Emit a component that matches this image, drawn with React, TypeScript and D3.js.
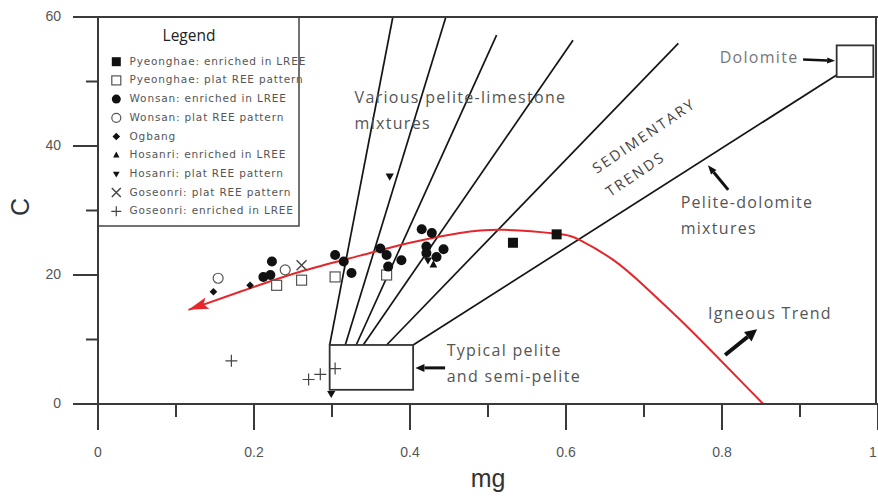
import React from "react";
import * as d3 from "d3";

// ---------- data ----------
const xTicksMajor = [0, 0.2, 0.4, 0.6, 0.8, 1];
const xTicksMinor = [0.1, 0.3, 0.5, 0.7, 0.9];
const yTicksMajor = [0, 20, 40, 60];
const yTicksMinor = [10, 30, 50];
const xTickLabels = ["0", "0.2", "0.4", "0.6", "0.8", "1"];
const yTickLabels = ["0", "20", "40", "60"];

const pyeonghaeEnriched: [number, number][] = [[0.532, 25.0], [0.588, 26.3]];
const pyeonghaePlat: [number, number][] = [[0.229, 18.4], [0.261, 19.2], [0.304, 19.7], [0.37, 20.0]];
const wonsanEnriched: [number, number][] = [
  [0.223, 22.1], [0.212, 19.7], [0.221, 20.0], [0.304, 23.1], [0.315, 22.1], [0.325, 20.3],
  [0.362, 24.1], [0.37, 23.1], [0.372, 21.3], [0.389, 22.3], [0.415, 27.1], [0.428, 26.5],
  [0.421, 24.4], [0.421, 23.4], [0.434, 22.8], [0.443, 24.0],
];
const wonsanPlat: [number, number][] = [[0.154, 19.5], [0.24, 20.8]];
const ogbang: [number, number][] = [[0.148, 17.4], [0.195, 18.4]];
const hosanriEnriched: [number, number][] = [[0.43, 21.6]];
const hosanriPlat: [number, number][] = [[0.374, 35.3], [0.299, 1.6], [0.423, 22.3]];
const goseongPlat: [number, number][] = [[0.261, 21.5]];
const goseongEnriched: [number, number][] = [[0.171, 6.7], [0.27, 3.8], [0.285, 4.6], [0.304, 5.5]];

// sedimentary trend lines: [mg0, C0, mg1, C1]
const trendLines: [number, number, number, number][] = [
  [0.297, 9.15, 0.378, 60],
  [0.317, 9.15, 0.446, 60],
  [0.331, 9.15, 0.511, 57.2],
  [0.34, 9.15, 0.609, 56.4],
  [0.37, 9.15, 0.744, 55.9],
  [0.404, 9.15, 0.947, 51.0],
];
const peliteBox = { mg0: 0.297, mg1: 0.404, c0: 2.2, c1: 9.15 };
const dolomiteBox = { mg0: 0.947, mg1: 0.994, c0: 50.7, c1: 55.6 };

// igneous trend curve (mg, C)
const igneousCurve: [number, number][] = [
  [0.116, 14.6], [0.182, 17.4], [0.259, 20.5], [0.336, 23.0], [0.4, 25.0], [0.464, 26.5],
  [0.52, 27.0], [0.588, 26.4], [0.618, 25.4], [0.661, 22.3], [0.703, 18.0], [0.746, 13.1],
  [0.789, 7.9], [0.827, 3.2], [0.853, 0],
];

const legendItems = [
  { sym: "fsq", label: "Pyeonghae: enriched in LREE" },
  { sym: "osq", label: "Pyeonghae: plat REE pattern" },
  { sym: "fci", label: "Wonsan: enriched in LREE" },
  { sym: "oci", label: "Wonsan: plat REE pattern" },
  { sym: "dia", label: "Ogbang" },
  { sym: "tup", label: "Hosanri: enriched in LREE" },
  { sym: "tdn", label: "Hosanri: plat REE pattern" },
  { sym: "x", label: "Goseonri: plat REE pattern" },
  { sym: "plus", label: "Goseonri: enriched in LREE" },
];

const series = [
  { sym: "osq", data: pyeonghaePlat },
  { sym: "oci", data: wonsanPlat },
  { sym: "x", data: goseongPlat },
  { sym: "plus", data: goseongEnriched },
  { sym: "dia", data: ogbang },
  { sym: "fci", data: wonsanEnriched },
  { sym: "fsq", data: pyeonghaeEnriched },
  { sym: "tup", data: hosanriEnriched },
  { sym: "tdn", data: hosanriPlat },
];

// ---------- helpers ----------
function Marker({ sym, cx, cy, s }: { sym: string; cx: number; cy: number; s: number }) {
  const h = s / 2;
  const ink = "#111";
  switch (sym) {
    case "fsq":
      return <rect x={cx - h} y={cy - h} width={s} height={s} fill={ink} />;
    case "osq":
      return <rect x={cx - h} y={cy - h} width={s} height={s} fill="white" stroke="#555" strokeWidth={1.2} />;
    case "fci":
      return <circle cx={cx} cy={cy} r={h} fill={ink} />;
    case "oci":
      return <circle cx={cx} cy={cy} r={h} fill="white" stroke="#555" strokeWidth={1.2} />;
    case "dia": {
      const d = h * 0.85;
      return <path d={`M${cx},${cy - d}L${cx + d},${cy}L${cx},${cy + d}L${cx - d},${cy}Z`} fill={ink} />;
    }
    case "tup":
      return <path d={`M${cx},${cy - h * 0.8}L${cx + h * 0.7},${cy + h * 0.5}L${cx - h * 0.7},${cy + h * 0.5}Z`} fill={ink} />;
    case "tdn":
      return <path d={`M${cx},${cy + h * 0.8}L${cx + h * 0.75},${cy - h * 0.5}L${cx - h * 0.75},${cy - h * 0.5}Z`} fill={ink} />;
    case "x":
      return (
        <path d={`M${cx - h},${cy - h}L${cx + h},${cy + h}M${cx - h},${cy + h}L${cx + h},${cy - h}`} stroke="#444" strokeWidth={1.4} />
      );
    case "plus":
      return (
        <path d={`M${cx - h},${cy}L${cx + h},${cy}M${cx},${cy - h}L${cx},${cy + h}`} stroke="#444" strokeWidth={1.2} />
      );
  }
  return null;
}

export default function App() {
  const W = 878, H = 498;
  const x = d3.scaleLinear().domain([0, 1]).range([98, 878]);
  const y = d3.scaleLinear().domain([0, 60]).range([404, 17]);
  const axisColor = "#3a3a3a";
  const labelColor = "#555";
  const annFont = "'Open Sans', sans-serif";

  const curveGen = d3
    .line<[number, number]>()
    .x((d) => x(d[0]))
    .y((d) => y(d[1]))
    .curve(d3.curveNatural);

  // arrowhead direction at start of igneous curve
  const p0 = igneousCurve[0], p1 = igneousCurve[1];
  const ax0 = x(p0[0]), ay0 = y(p0[1]);
  const ang = Math.atan2(ay0 - y(p1[1]), ax0 - x(p1[0]));
  const headLen = 20, headW = 6;
  const hb = [ax0 - headLen * Math.cos(ang), ay0 - headLen * Math.sin(ang)];
  const redHead = `M${ax0},${ay0}L${hb[0] - headW * Math.sin(ang)},${hb[1] + headW * Math.cos(ang)}L${hb[0] + 4 * Math.cos(ang)},${hb[1] + 4 * Math.sin(ang)}L${hb[0] + headW * Math.sin(ang)},${hb[1] - headW * Math.cos(ang)}Z`;

  const arrow = (x1: number, y1: number, x2: number, y2: number, w: number, hl: number, hw: number, color = "#111") => {
    const a = Math.atan2(y2 - y1, x2 - x1);
    const bx = x2 - hl * Math.cos(a), by = y2 - hl * Math.sin(a);
    return (
      <g>
        <line x1={x1} y1={y1} x2={bx} y2={by} stroke={color} strokeWidth={w} />
        <path
          d={`M${x2},${y2}L${bx - hw * Math.sin(a)},${by + hw * Math.cos(a)}L${bx + hw * Math.sin(a)},${by - hw * Math.cos(a)}Z`}
          fill={color}
        />
      </g>
    );
  };

  const legendX = 98, legendY = 17, legendW = 201, legendH = 209;

  return (
    <svg width={W} height={H} style={{ position: "absolute", left: 0, top: 0, background: "white" }}>
      <rect x={0} y={0} width={W} height={H} fill="white" />

      {/* trend lines */}
      {trendLines.map((l, i) => (
        <line key={i} x1={x(l[0])} y1={y(l[1])} x2={x(l[2])} y2={y(l[3])} stroke="#151515" strokeWidth={1.7} />
      ))}
      {/* boxes */}
      <rect
        x={x(peliteBox.mg0)} y={y(peliteBox.c1)}
        width={x(peliteBox.mg1) - x(peliteBox.mg0)} height={y(peliteBox.c0) - y(peliteBox.c1)}
        fill="white" stroke="#333" strokeWidth={1.8}
      />
      <rect
        x={x(dolomiteBox.mg0)} y={y(dolomiteBox.c1)}
        width={x(dolomiteBox.mg1) - x(dolomiteBox.mg0)} height={y(dolomiteBox.c0) - y(dolomiteBox.c1)}
        fill="white" stroke="#333" strokeWidth={1.8}
      />

      {/* igneous curve */}
      <path d={curveGen(igneousCurve) || ""} fill="none" stroke="#e5262b" strokeWidth={2} />
      <path d={redHead} fill="#e5262b" />

      {/* data points */}
      {series.map((s, i) => (
        <g key={i}>
          {s.data.map((d, j) => (
            <Marker key={j} sym={s.sym} cx={x(d[0])} cy={y(d[1])} s={s.sym === "plus" ? 12 : s.sym === "dia" ? 9 : s.sym === "tup" || s.sym === "tdn" ? 11 : 10} />
          ))}
        </g>
      ))}

      {/* annotations */}
      <g fontFamily={annFont} fill={labelColor} fontSize={16} letterSpacing={1.3}>
        <text x={x(0.329)} y={y(47.4)} dominantBaseline="middle">Various pelite-limestone</text>
        <text x={x(0.329)} y={y(43.3)} dominantBaseline="middle">mixtures</text>
        <text x={x(0.747)} y={y(31.1)} dominantBaseline="middle">Pelite-dolomite</text>
        <text x={x(0.747)} y={y(27.0)} dominantBaseline="middle">mixtures</text>
        <text x={x(0.782)} y={y(13.8)} dominantBaseline="middle">Igneous Trend</text>
        <text x={x(0.447)} y={y(8.1)} dominantBaseline="middle">Typical pelite</text>
        <text x={x(0.447)} y={y(4.0)} dominantBaseline="middle">and semi-pelite</text>
        <text x={x(0.797)} y={y(53.6)} dominantBaseline="middle" fill="#777">Dolomite</text>
        <g transform={`translate(${x(0.701)},${y(41.4)}) rotate(-34)`} fontSize={14.5} fill="#444" letterSpacing={2.2}>
          <text x={0} y={0} textAnchor="middle" dominantBaseline="middle">SEDIMENTARY</text>
        </g>
        <g transform={`translate(${x(0.69)},${y(35.5)}) rotate(-34)`} fontSize={14.5} fill="#444" letterSpacing={2.2}>
          <text x={0} y={0} textAnchor="middle" dominantBaseline="middle">TRENDS</text>
        </g>
      </g>
      {/* annotation arrows */}
      {arrow(x(0.904), y(53.4), x(0.945), y(53.2), 2.5, 8, 3)}
      {arrow(x(0.445), y(5.6), x(0.407), y(5.6), 3, 9, 4)}
      {arrow(x(0.804), y(7.6), x(0.845), y(11.6), 4, 12, 6)}
      {arrow(x(0.808), y(33.2), x(0.782), y(37.0), 3, 9, 3.5)}

      {/* legend */}
      <rect x={legendX} y={legendY} width={legendW} height={legendH} fill="white" stroke="#444" strokeWidth={1.5} />
      <text x={legendX + 91} y={legendY + 20} textAnchor="middle" dominantBaseline="middle" fontFamily={annFont} fontSize={15.5} fill="#222">
        Legend
      </text>
      {legendItems.map((it, i) => {
        const ly = legendY + 44.7 + i * 18.7;
        return (
          <g key={i}>
            <Marker sym={it.sym} cx={legendX + 18.3} cy={ly} s={it.sym === "plus" ? 10 : 9} />
            <text x={legendX + 31.5} y={ly} dominantBaseline="middle" fontFamily="'DejaVu Sans', sans-serif" fontSize={10.5} letterSpacing={0.85} fill="#555">
              {it.label}
            </text>
          </g>
        );
      })}

      {/* axes */}
      <g stroke={axisColor} strokeWidth={2}>
        <line x1={x(0)} y1={y(60)} x2={x(0)} y2={430} />
        <line x1={73} y1={y(0)} x2={W} y2={y(0)} />
        <line x1={73} y1={y(60)} x2={W} y2={y(60)} />
        <line x1={x(1) - 2} y1={y(60)} x2={x(1) - 2} y2={y(0)} />
        {xTicksMajor.map((t) => (
          <line key={"xm" + t} x1={x(t)} y1={y(0)} x2={x(t)} y2={430} />
        ))}
        {xTicksMinor.map((t) => (
          <line key={"xn" + t} x1={x(t)} y1={y(0)} x2={x(t)} y2={417} />
        ))}
        {yTicksMajor.map((t) => (
          <line key={"ym" + t} x1={73} y1={y(t)} x2={x(0)} y2={y(t)} />
        ))}
        {yTicksMinor.map((t) => (
          <line key={"yn" + t} x1={86} y1={y(t)} x2={x(0)} y2={y(t)} />
        ))}
      </g>
      <g fontFamily="'Liberation Sans', Arial, sans-serif" fontSize={14} fill={labelColor}>
        {xTicksMajor.map((t, i) => (
          <text key={"xl" + t} x={Math.min(x(t), W - 5)} y={453} textAnchor="middle" dominantBaseline="middle">
            {xTickLabels[i]}
          </text>
        ))}
        {yTicksMajor.map((t, i) => (
          <text key={"yl" + t} x={61} y={y(t)} textAnchor="end" dominantBaseline="middle">
            {yTickLabels[i]}
          </text>
        ))}
      </g>
      <text x={x(0.5)} y={480} textAnchor="middle" dominantBaseline="middle" fontFamily="'Liberation Sans', Arial, sans-serif" fontSize={25} fill="#333">
        mg
      </text>
      <text
        transform={`translate(22,207) rotate(-90)`}
        textAnchor="middle"
        dominantBaseline="middle"
        fontFamily="'Liberation Sans', Arial, sans-serif"
        fontSize={25}
        fill="#333"
      >
        C
      </text>
    </svg>
  );
}
